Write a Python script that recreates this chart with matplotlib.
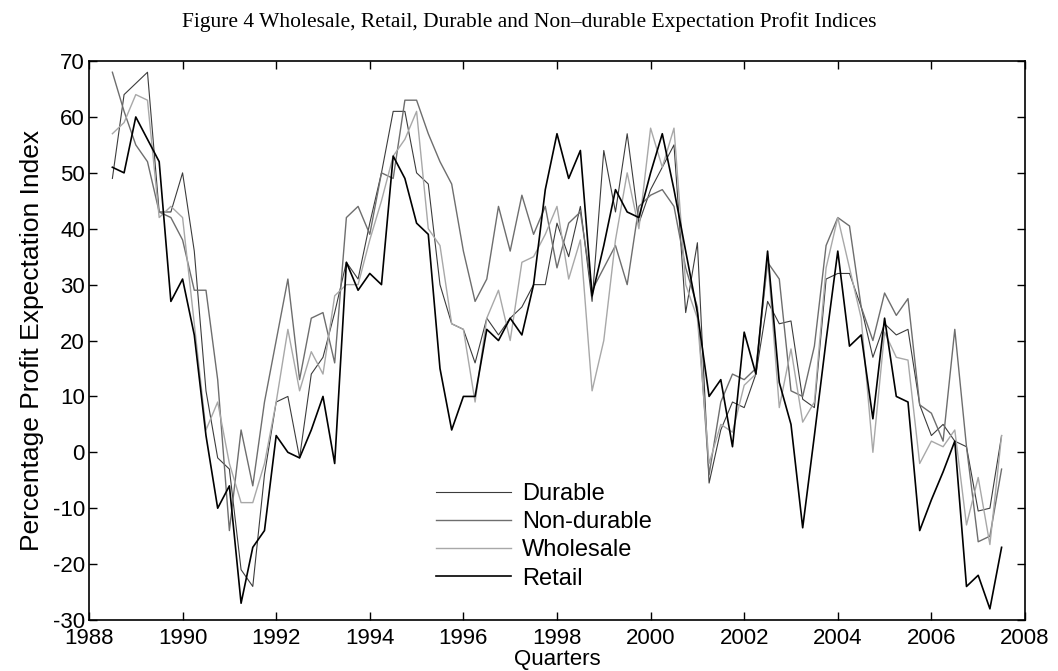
import numpy as np
import matplotlib
matplotlib.use("Agg")
import matplotlib.pyplot as plt

# Quarterly series, 1988 Q3 to 2007 Q3 (77 quarters)
start_year = 1988.5
durable = [49, 64, 66, 68, 43, 43, 50, 36, 11, -1, -3, -21, -24, -4, 9, 10, -1, 14, 17, 25,
           34, 31, 41, 50, 61, 61, 50, 48, 30, 23, 22, 16, 24, 21, 24, 26, 30, 30,
           41, 35, 44, 27, 54, 43, 57, 41, 47, 51, 55,
           25, 37.5, -5.5, 4, 9, 8, 14, 27, 23, 23.5, 9.5, 8, 31, 32, 32, 26, 17, 23,
           21, 22, 8.5, 3, 5, 2, 1, -10.5, -10, 3]
non_durable = [68, 61, 55, 52, 43, 42, 38, 29, 29, 13, -14, 4, -6, 9, 20, 31, 13, 24, 25, 16,
               42, 44, 39, 50, 49, 63, 63, 57, 52, 48, 36, 27, 31, 44, 36, 46, 39, 44,
               33, 41, 43, 29, 33, 37, 30, 44, 46, 47, 44,
               33, 26, -4, 9, 14, 13, 15, 34, 31, 11, 10, 19, 37, 42, 40.5, 26, 20, 28.5,
               24.5, 27.5, 8.5, 7, 2, 22, 1, -16, -15, -3]
wholesale = [57, 59, 64, 63, 42, 44, 42, 23, 4, 9, -2, -9, -9, -2, 9, 22, 11, 18, 14, 28,
             30, 30, 38, 45, 53, 56, 61, 40, 37, 23, 22, 9, 24, 29, 20, 34, 35, 39,
             44, 31, 38, 11, 20, 38, 50, 40, 58, 51, 58,
             30, 24, -2, 5, 3.6, 12, 14, 35, 8, 18.5, 5.4, 9, 33, 42, 33, 24, 0, 21.5,
             17, 16.5, -2, 2, 1, 4, -13, -4.5, -16.5, 3]
retail = [51, 50, 60, 56, 52, 27, 31, 21, 3, -10, -6, -27, -17, -14, 3, 0, -1, 4, 10, -2,
          34, 29, 32, 30, 53, 49, 41, 39, 15, 4, 10, 10, 22, 20, 24, 21, 30, 47,
          57, 49, 54, 28, 37, 47, 43, 42, 50, 57, 47,
          36, 25, 10, 13, 1, 21.5, 14, 36, 12.5, 5, -13.5, 3, 20, 36, 19, 21, 6, 24,
          10, 9, -14, -8.5, -3.5, 2, -24, -22, -28, -17]

quarters = start_year + 0.25 * np.arange(len(retail))

plt.rcParams['font.family'] = ['Liberation Sans', 'DejaVu Sans']
plt.rcParams['axes.unicode_minus'] = False

fig = plt.figure(figsize=(10.58, 6.71), dpi=100)
ax = fig.add_axes([0.0841, 0.076, 0.8847, 0.833])

ax.plot(quarters, durable, color='#3c3c3c', lw=0.8, label='Durable')
ax.plot(quarters, non_durable, color='#6e6e6e', lw=1.0, label='Non-durable')
ax.plot(quarters, wholesale, color='#a8a8a8', lw=1.0, label='Wholesale')
ax.plot(quarters, retail, color='black', lw=1.2, label='Retail')

ax.set_xlim(1988, 2008)
ax.set_ylim(-30, 70)
ax.set_xticks(np.arange(1988, 2009, 2))
ax.set_yticks(np.arange(-30, 71, 10))
ax.tick_params(direction='in', top=True, right=True, length=6, width=1, labelsize=16)
ax.tick_params(axis='x', pad=6)
ax.tick_params(axis='y', pad=3)
for s in ax.spines.values():
    s.set_linewidth(1.2)

ax.set_xlabel('Quarters', fontsize=16, labelpad=0)
ax.set_ylabel('Percentage Profit Expectation Index', fontsize=19, labelpad=6)

fig.text(0.5, 0.967, 'Figure 4 Wholesale, Retail, Durable and Non\u2013durable Expectation Profit Indices',
         ha='center', va='center', fontsize=15.5, family='Liberation Serif')

ax.legend(loc='upper left', bbox_to_anchor=(0.358, 0.266), frameon=False, fontsize=17,
          handlelength=3.2, handletextpad=0.45, labelspacing=0.26, borderpad=0.0)

fig.savefig('out.png', dpi=100)
